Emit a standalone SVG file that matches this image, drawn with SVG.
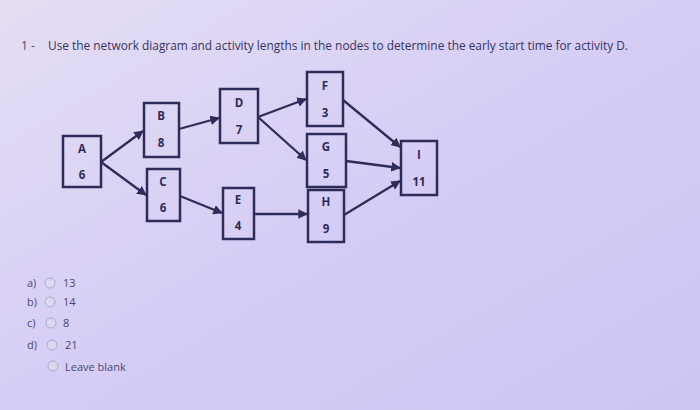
<svg xmlns="http://www.w3.org/2000/svg" width="700" height="410" viewBox="0 0 700 410">
<defs>
<linearGradient id="bg" x1="0" y1="0" x2="1" y2="1">
<stop offset="0" stop-color="#e4def2"/>
<stop offset="0.5" stop-color="#d6cdf6"/>
<stop offset="1" stop-color="#cdc4f3"/>
</linearGradient>
<marker id="ah" viewBox="0 0 10 10" refX="9" refY="5" markerWidth="4.2" markerHeight="4.2" orient="auto" markerUnits="strokeWidth">
<path d="M0,0 L10,5 L0,10 z" fill="#2e2c5a"/>
</marker>
<style>
.box{fill:none;stroke:#2e2c5a;stroke-width:2.5}
.lbl{font-family:"Open Sans","Liberation Sans",sans-serif;font-size:11.5px;font-weight:bold;fill:#2e2c5a;text-anchor:middle}
.edge{stroke:#2e2c5a;stroke-width:2.3;fill:none;marker-end:url(#ah)}
.txt{font-family:"Open Sans","Liberation Sans",sans-serif;font-size:12px;fill:#4a4870}
.opt{fill:#dcd8f0;stroke:#a9a9cc;stroke-width:1}
</style>
</defs>
<rect width="700" height="410" fill="url(#bg)"/>
<text x="21" y="50" class="txt" style="font-size:12px">1 -</text>
<text x="48" y="50" class="txt" style="font-size:13px;fill:#36345f" textLength="580" lengthAdjust="spacingAndGlyphs">Use the network diagram and activity lengths in the nodes to determine the early start time for activity D.</text>
<g id="connectors">
<line class="edge" x1="101" y1="162" x2="143" y2="131"/>
<line class="edge" x1="101" y1="162" x2="146" y2="195"/>
<line class="edge" x1="179" y1="129" x2="219" y2="118"/>
<line class="edge" x1="180" y1="196" x2="222" y2="213"/>
<line class="edge" x1="258" y1="117" x2="306" y2="99"/>
<line class="edge" x1="258" y1="117" x2="306" y2="160"/>
<line class="edge" x1="254" y1="214" x2="307" y2="214"/>
<line class="edge" x1="343" y1="100" x2="400" y2="147"/>
<line class="edge" x1="346" y1="161" x2="400" y2="168"/>
<line class="edge" x1="344" y1="215" x2="400" y2="181"/>
</g>
<g id="A"><rect class="box" x="63" y="136" width="38" height="51"/><text class="lbl" x="82" y="153">A</text><text class="lbl" x="82" y="179">6</text></g>
<g id="B"><rect class="box" x="144" y="103" width="35" height="54"/><text class="lbl" x="161" y="120">B</text><text class="lbl" x="161" y="147">8</text></g>
<g id="C"><rect class="box" x="147" y="169" width="33" height="52"/><text class="lbl" x="163" y="186">C</text><text class="lbl" x="163" y="212">6</text></g>
<g id="D"><rect class="box" x="220" y="89" width="38" height="54"/><text class="lbl" x="239" y="107">D</text><text class="lbl" x="239" y="134">7</text></g>
<g id="E"><rect class="box" x="223" y="188" width="31" height="51"/><text class="lbl" x="238" y="204">E</text><text class="lbl" x="238" y="230">4</text></g>
<g id="F"><rect class="box" x="307" y="72" width="36" height="54"/><text class="lbl" x="325" y="90">F</text><text class="lbl" x="325" y="117">3</text></g>
<g id="G"><rect class="box" x="307" y="134" width="39" height="53"/><text class="lbl" x="326" y="151">G</text><text class="lbl" x="326" y="178">5</text></g>
<g id="H"><rect class="box" x="308" y="190" width="36" height="52"/><text class="lbl" x="326" y="206">H</text><text class="lbl" x="326" y="233">9</text></g>
<g id="I"><rect class="box" x="401" y="141" width="36" height="54"/><text class="lbl" x="419" y="159">I</text><text class="lbl" x="419" y="186">11</text></g>
<g id="options">
<text class="txt" x="27" y="287" style="font-size:11px">a)</text><circle class="opt" cx="50" cy="283" r="5"/><text class="txt" x="63" y="287" style="font-size:11px">13</text>
<text class="txt" x="27" y="306" style="font-size:11px">b)</text><circle class="opt" cx="50" cy="302" r="5"/><text class="txt" x="63" y="306" style="font-size:11px">14</text>
<text class="txt" x="27" y="327" style="font-size:11px">c)</text><circle class="opt" cx="51" cy="323" r="5"/><text class="txt" x="63" y="327" style="font-size:11px">8</text>
<text class="txt" x="27" y="349" style="font-size:11px">d)</text><circle class="opt" cx="52" cy="345" r="5"/><text class="txt" x="65" y="349" style="font-size:11px">21</text>
<circle class="opt" cx="53" cy="366" r="5"/><text class="txt" x="65" y="371" style="font-size:11px">Leave blank</text>
</g>
</svg>
